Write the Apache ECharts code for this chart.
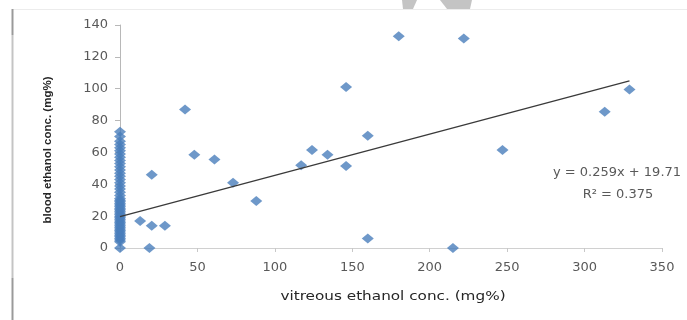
<!DOCTYPE html>
<html>
<head>
<meta charset="utf-8">
<script src="https://cdn.jsdelivr.net/npm/echarts@6/dist/echarts.min.js"></script>
<style>html,body{margin:0;padding:0;background:#fff;}#c{width:687px;height:320px;}</style>
</head>
<body>
<div id="c"></div>
<script>
// vitreous = 0 column (blood values)
const zeroColumnBlood = [0, 4, 5, 6, 7, 8, 9, 10, 11, 12, 13, 14, 15, 16, 17, 18, 19, 20, 21, 22, 23, 24, 25, 26, 27, 28, 29, 30, 31, 33, 35, 37, 39, 41, 43, 45, 47, 49, 51, 53, 55, 57, 59, 61, 63, 65, 67, 70, 73];
// other points: vitreous (x) and blood (y)
const vitreous = [13, 19, 20.5, 20.5, 29, 42, 48, 61, 73, 88, 117, 124, 134, 146, 146, 160, 160, 180, 215, 222, 247, 313, 329];
const blood    = [17, 0, 14, 46, 14, 87, 58.5, 55.5, 41, 29.5, 52, 61.5, 58.5, 101, 51.5, 70.5, 6, 133, 0, 131.5, 61.5, 85.5, 99.5];
// trend line endpoints (y = 0.259x + 19.71)
const trendX = [0, 329];
const trendY = [19.71, 104.92];
const xTicks = [0, 50, 100, 150, 200, 250, 300, 350];
const yTicks = [0, 20, 40, 60, 80, 100, 120, 140];
const xTitle = 'vitreous ethanol conc. (mg%)';
const yTitle = 'blood ethanol conc. (mg%)';
const equationText = 'y = 0.259x + 19.71';
const r2Text = 'R\u00B2 = 0.375';

const pts = zeroColumnBlood.map(v => [0, v]).concat(vitreous.map((x, i) => [x, blood[i]]));
const trend = trendX.map((x, i) => [x, trendY[i]]);

const chart = echarts.init(document.getElementById('c'), null, {renderer: 'canvas'});
chart.setOption({
  backgroundColor: '#fff',
  animation: false,
  grid: {left: 120, right: 25, top: 25, bottom: 72},
  xAxis: {
    type: 'value', min: xTicks[0], max: xTicks[xTicks.length - 1], interval: 50,
    axisLine: {lineStyle: {color: '#d0d0d0', width: 1}},
    axisTick: {show: true, inside: false, length: 4, lineStyle: {color: '#c8c8c8'}},
    axisLabel: {fontFamily: 'DejaVu Sans', fontSize: 13, color: '#595959', margin: 13},
    splitLine: {show: false}
  },
  yAxis: {
    type: 'value', min: yTicks[0], max: yTicks[yTicks.length - 1], interval: 20,
    axisLine: {show: true, lineStyle: {color: '#b8b8b8', width: 1}},
    axisTick: {show: true, inside: false, length: 5, lineStyle: {color: '#b8b8b8'}},
    axisLabel: {fontFamily: 'DejaVu Sans', fontSize: 13, color: '#595959', margin: 12},
    splitLine: {show: false}
  },
  series: [
    {
      type: 'scatter', data: pts, symbol: 'diamond', symbolSize: [12, 10],
      itemStyle: {color: '#4a7ebb'}, z: 2
    },
    {
      type: 'line', data: trend, symbol: 'none', showSymbol: false,
      lineStyle: {color: '#3a3a3a', width: 1.3}, z: 3
    }
  ],
  graphic: [
    {type: 'line', shape: {x1: 13, y1: 9.5, x2: 687, y2: 9.5}, style: {stroke: '#ececec', lineWidth: 1}},
    {type: 'line', shape: {x1: 12.5, y1: 9, x2: 12.5, y2: 35}, style: {stroke: '#9a9a9a', lineWidth: 2}},
    {type: 'line', shape: {x1: 12.5, y1: 35, x2: 12.5, y2: 278}, style: {stroke: '#c4c4c4', lineWidth: 2}},
    {type: 'line', shape: {x1: 12.5, y1: 278, x2: 12.5, y2: 320}, style: {stroke: '#9a9a9a', lineWidth: 2}},
    {type: 'polygon', shape: {points: [[403, 9], [402, 0], [417, 0], [413, 9]]}, style: {fill: '#c4c4c4'}},
    {type: 'polygon', shape: {points: [[440, 0], [472, 0], [470, 9], [447, 9]]}, style: {fill: '#c4c4c4'}},
    {type: 'text', x: 393, y: 297, scaleX: 1.22,
      style: {text: xTitle, font: '12.5px "DejaVu Sans"', fill: '#262626', align: 'center', verticalAlign: 'middle'}},
    {type: 'text', x: 48, y: 150, rotation: Math.PI / 2,
      style: {text: yTitle, font: 'bold 11.5px "Liberation Sans"', fill: '#262626', align: 'center', verticalAlign: 'middle'}},
    {type: 'text', x: 617, y: 173, style: {text: equationText, font: '13px "DejaVu Sans"', fill: '#595959', align: 'center', verticalAlign: 'middle'}},
    {type: 'text', x: 618, y: 195, style: {text: r2Text, font: '13px "DejaVu Sans"', fill: '#595959', align: 'center', verticalAlign: 'middle'}}
  ]
});
</script>
</body>
</html>
